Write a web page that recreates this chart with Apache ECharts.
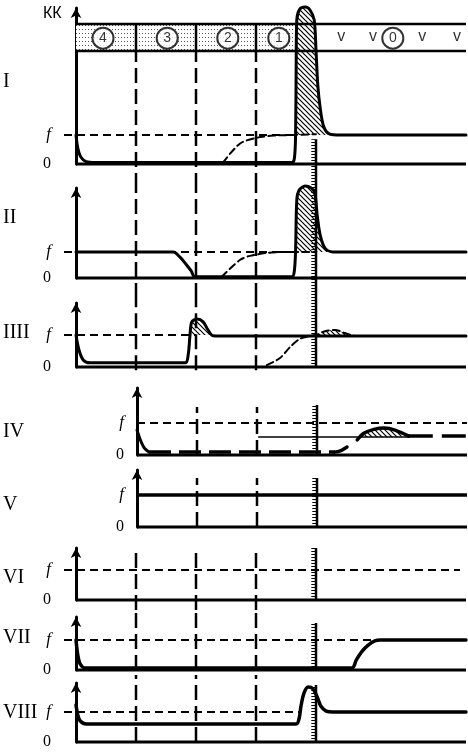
<!DOCTYPE html>
<html><head><meta charset="utf-8">
<script src="https://cdn.jsdelivr.net/npm/echarts@6/dist/echarts.min.js"></script>
<style>html,body{margin:0;padding:0;background:#fff}#c{width:468px;height:752px}</style>
</head><body><div id="c"></div>
<script>
// ---------- data ----------
const X_MAX = 6.5;
const phaseLines = [1, 2, 3];
const RULER_X = 4;
const F = 1;

// header band of panel I
const bandNums = ['4', '3', '2', '1', '0'];
const bandNumX = [0.45, 1.52, 2.53, 3.38, 5.28];
const bandTickX = [4.42, 4.95, 5.77, 6.35];
const bandRange = [3.9, 4.83];
const bandDottedEnd = 3.67;

// Panel I
const p1Curve = [[0,1],[0.03,0.55],[0.08,0.24],[0.17,0.08],[0.32,0.05],[3.6,0.05],[3.64,0.2],[3.66,1.0],[3.67,3.6],[3.68,4.97],[3.73,5.34],[3.82,5.41],[3.9,5.31],[3.97,4.97],[4.0,3.93],[4.03,2.72],[4.07,1.93],[4.13,1.28],[4.23,1.03],[4.4,1.0],[6.5,1.0]];
const p1Spike = [[3.662,1.0],[3.67,3.6],[3.68,4.97],[3.73,5.34],[3.82,5.41],[3.9,5.31],[3.97,4.97],[4.0,3.93],[4.03,2.72],[4.07,1.93],[4.13,1.28],[4.23,1.03],[4.4,1.0]];
const p1Rise = [[2.45,0.05],[2.73,0.7],[3.0,0.9],[3.3,0.98],[3.6,1.0],[4.0,1.03]];
// Panel II
const p2Curve = [[0,1],[1.62,1],[1.73,0.81],[1.83,0.54],[1.92,0.27],[1.98,0.05],[3.6,0.05],[3.64,0.3],[3.66,1.08],[3.68,3.0],[3.72,3.38],[3.82,3.54],[3.92,3.46],[3.98,3.27],[4.02,2.42],[4.07,1.65],[4.15,1.15],[4.28,1.0],[6.5,1]];
const p2Spike = [[3.664,1],[3.68,3.0],[3.72,3.38],[3.82,3.54],[3.92,3.46],[3.98,3.27],[4.02,2.42],[4.07,1.65],[4.15,1.15],[4.28,1.0]];
const p2Rise = [[2.43,0.05],[2.73,0.69],[2.9,0.85],[3.2,0.97],[3.5,1.0],[4.0,1.0]];
// Panel III
const p3Curve = [[0,1],[0.05,0.53],[0.12,0.22],[0.23,0.13],[1.82,0.13],[1.87,0.38],[1.9,1.0],[1.93,1.41],[2.02,1.5],[2.12,1.41],[2.2,1.16],[2.28,0.98],[2.57,0.97],[6.5,0.97]];
const p3Hump = [[1.9,1.0],[1.93,1.41],[2.02,1.5],[2.12,1.41],[2.2,1.16],[2.27,1.0]];
const p3Rise = [[3.18,0.06],[3.4,0.28],[3.57,0.63],[3.73,0.88],[3.9,0.97],[4.0,1.0],[4.15,1.12],[4.32,1.16],[4.48,1.06],[4.65,0.97]];
const p3RiseHump = [[4.0,1.0],[4.15,1.12],[4.32,1.16],[4.48,1.06],[4.6,1.0]];
// Panel IV
const p4Drop = [[1,0.78],[1.05,0.5],[1.12,0.22],[1.2,0.09]];
const p4Low = [[1.2,0.09],[4.3,0.09]];
const p4Rise = [[4.3,0.09],[4.4,0.14],[4.5,0.25]];
const p4Hump = [[4.67,0.47],[4.78,0.68],[4.95,0.8],[5.12,0.84],[5.3,0.78],[5.53,0.59]];
const p4Tail = [[5.53,0.59],[6.5,0.59]];
const p4Thin = [[3.02,0.56],[5.53,0.56]];
// Panel VII
const p7Curve = [[0,1],[0.03,0.5],[0.07,0.2],[0.15,0.07],[4.6,0.07],[4.67,0.33],[4.77,0.63],[4.87,0.83],[4.98,0.97],[5.07,1],[6.5,1]];
// Panel VIII
const p8Curve = [[0,1.23],[0.03,0.9],[0.07,0.7],[0.17,0.6],[3.67,0.6],[3.72,0.8],[3.75,1.2],[3.8,1.63],[3.87,1.83],[3.95,1.77],[4.02,1.5],[4.08,1.2],[4.17,1.03],[4.28,1.0],[6.5,1.0]];

const panelNames = ['I', 'II', 'IIII', 'IV', 'V', 'VI', 'VII', 'VIII'];
const xMins = [-0.2, -0.2, -0.2, 1, 1, -0.2, -0.2, -0.2];
const fDashExtent = [[-0.2,3.7],[-0.2,3.7],[-0.2,2.0],[1,6.5],null,[-0.2,6.4],[-0.2,5.0],[-0.2,3.75]];
const vExtent = [[-0.83,3.9],[-0.77,3.46],[-0.1,2.16],[0,1.5],[0,1.53],[-0.33,1.6],[0,1.93],[0,2.23]];
const rulerExtent = [[-0.83,0.85],[-0.77,3.46],[0,2.16],[0,1.56],[0,1.53],[0,1.73],[0,1.57],[0,1.9]];

// ---------- layout ----------
const layout = [
  {top: 8,   h: 156, unit: 29, left: 64},
  {top: 188, h: 90,  unit: 26, left: 64},
  {top: 303, h: 64,  unit: 32, left: 64},
  {top: 388, h: 67,  unit: 32, left: 137},
  {top: 470, h: 57,  unit: 32, left: 137},
  {top: 548, h: 52,  unit: 30, left: 64},
  {top: 617, h: 53,  unit: 30, left: 64},
  {top: 683, h: 59,  unit: 30, left: 64}
];
const nameY = [82, 218, 333, 432, 505, 578, 638, 713];

function pattern(kind) {
  const c = document.createElement('canvas');
  const g = c.getContext('2d');
  if (kind === 'dots') {
    c.width = 3; c.height = 4;
    g.fillStyle = '#fff'; g.fillRect(0, 0, 3, 4);
    g.fillStyle = '#555'; g.fillRect(1, 1, 1, 1);
  } else {
    c.width = 5; c.height = 5;
    g.fillStyle = '#fff'; g.fillRect(0, 0, 5, 5);
    g.strokeStyle = '#000'; g.lineWidth = 1.2;
    g.beginPath();
    g.moveTo(0, 0); g.lineTo(5, 5);
    g.moveTo(-1, 4); g.lineTo(1, 6);
    g.moveTo(4, -1); g.lineTo(6, 1);
    g.stroke();
  }
  return {image: c, repeat: 'repeat'};
}
const hatch = pattern('hatch');
const dots = pattern('dots');

const grids = [], xAxes = [], yAxes = [], series = [];

function line(i, data, width, type, extra) {
  return Object.assign({
    type: 'line', xAxisIndex: i, yAxisIndex: i, data: data, symbol: 'none',
    clip: false, silent: true, animation: false, smooth: false,
    lineStyle: {color: '#000', width: width, type: type || 'solid', cap: 'butt'}
  }, extra || {});
}
function curve(i, data, width, type) {
  return line(i, data, width, type, {smooth: 0.3, lineStyle: {color: '#000', width: width, type: type || 'solid', cap: 'round', join: 'round'}});
}
function hatchArea(i, data, origin) {
  return line(i, data, 0, 'solid', {smooth: 0.3, lineStyle: {width: 0, opacity: 0}, areaStyle: {color: hatch, origin: origin, opacity: 1}});
}

layout.forEach((L, i) => {
  const width = (X_MAX - xMins[i]) * 60;
  grids.push({left: L.left, top: L.top, width: width, height: L.h});
  xAxes.push({type: 'value', gridIndex: i, min: xMins[i], max: X_MAX, show: false});
  yAxes.push({
    type: 'value', gridIndex: i, min: 0, max: L.h / L.unit, interval: 1,
    axisLine: {show: true, onZero: true, symbol: ['none', 'arrow'], symbolSize: [8, 10], lineStyle: {color: '#000', width: 3}},
    axisTick: {show: false}, splitLine: {show: false},
    axisLabel: {
      margin: 13,
      formatter: v => v === 0 ? '{z|0}' : (v === 1 ? '{f|f}' : ''),
      rich: {
        z: {fontFamily: 'Liberation Serif', fontSize: 16, color: '#000'},
        f: {fontFamily: 'Liberation Serif', fontStyle: 'italic', fontSize: 17, color: '#000'}
      }
    }
  });

  // header band (panel I)
  if (i === 0) {
    series.push(line(0, [[0, bandRange[0]], [0, bandRange[0]]], 0, 'solid', {
      markArea: {silent: true, itemStyle: {color: dots, opacity: 1}, data: [[{coord: [0, bandRange[0]]}, {coord: [bandDottedEnd, bandRange[1]]}]]}
    }));
    series.push(line(0, [[0, bandRange[1]], [X_MAX, bandRange[1]]], 2.5));
    series.push(line(0, [[0, bandRange[0]], [X_MAX, bandRange[0]]], 2.5));
    phaseLines.forEach(x => series.push(line(0, [[x, bandRange[0]], [x, bandRange[1]]], 2.5)));
  }
  // f reference line
  const fe = fDashExtent[i];
  if (fe) series.push(line(i, [[fe[0], F], [fe[1], F]], 2, [8, 5]));
  // phase boundary verticals
  phaseLines.filter(x => x > xMins[i] + 0.05).forEach(x => {
    series.push(line(i, [[x, vExtent[i][0]], [x, vExtent[i][1]]], 2.5, [15, 6]));
  });
  // ruler
  const re = rulerExtent[i];
  series.push(line(i, [[RULER_X - 0.045, re[0]], [RULER_X - 0.045, re[1]]], 4, [1, 2]));
  series.push(line(i, [[RULER_X, re[0]], [RULER_X, re[1]]], 2.5));
  // baseline
  series.push(line(i, [[Math.max(0, xMins[i]), 0], [X_MAX, 0]], 3));
});

// Panel I
series.push(curve(0, p1Rise, 2, [7, 4]));
series.push(hatchArea(0, p1Spike, 1));
series.push(curve(0, p1Curve, 3));
series.push({
  type: 'scatter', xAxisIndex: 0, yAxisIndex: 0, silent: true, animation: false,
  data: bandNums.map((n, k) => ({name: n, value: [bandNumX[k], 4.34]})),
  symbol: 'circle', symbolSize: 21,
  itemStyle: {color: '#fff', borderColor: '#000', borderWidth: 2},
  label: {show: true, position: 'inside', formatter: p => p.name, color: '#000', fontFamily: 'Liberation Sans', fontSize: 14}
});
series.push({
  type: 'scatter', xAxisIndex: 0, yAxisIndex: 0, silent: true, animation: false,
  data: bandTickX.map(x => [x, 4.38]), symbolSize: 1, itemStyle: {color: 'rgba(0,0,0,0)'},
  label: {show: true, position: 'inside', formatter: 'v', color: '#000', fontFamily: 'Liberation Sans', fontSize: 16}
});
// Panel II
series.push(curve(1, p2Rise, 2, [7, 4]));
series.push(hatchArea(1, p2Spike, 1));
series.push(curve(1, p2Curve, 3));
// Panel III
series.push(hatchArea(2, p3RiseHump, 1));
series.push(curve(2, p3Rise, 2, [7, 4]));
series.push(hatchArea(2, p3Hump, 1));
series.push(curve(2, p3Curve, 3));
// Panel IV
series.push(line(3, p4Thin, 1.5));
series.push(hatchArea(3, p4Hump, 0.56));
series.push(curve(3, p4Drop, 3));
series.push(line(3, p4Low, 3.5, [22, 8]));
series.push(curve(3, p4Rise, 3.5));
series.push(curve(3, p4Hump, 3.5));
series.push(line(3, p4Tail, 3.5, [24, 9]));
// Panel V
series.push(line(4, [[1, F], [X_MAX, F]], 3.5));
// Panel VII
series.push(curve(6, p7Curve, 3.5));
// Panel VIII
series.push(curve(7, p8Curve, 3.5));

const graphic = panelNames.map((n, k) => ({
  type: 'text', x: 3, y: nameY[k], silent: true,
  style: {text: n, font: '20px "Liberation Serif"', fill: '#000', verticalAlign: 'middle'}
}));
graphic.push({type: 'text', x: 43, y: 14, silent: true,
  style: {text: 'КК', font: '16px "Liberation Sans"', fill: '#000', verticalAlign: 'middle'}});

const chart = echarts.init(document.getElementById('c'), null, {renderer: 'canvas'});
chart.setOption({
  animation: false,
  backgroundColor: '#fff',
  grid: grids, xAxis: xAxes, yAxis: yAxes, series: series, graphic: graphic
});
</script></body></html>
